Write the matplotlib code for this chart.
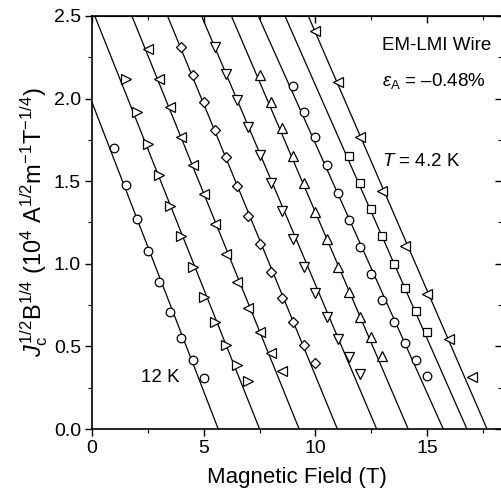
import matplotlib
matplotlib.use("Agg")
import matplotlib.pyplot as plt
import numpy as np

plt.rcParams['font.family'] = ['Liberation Sans', 'DejaVu Sans']
plt.rcParams['mathtext.fontset'] = 'custom'
plt.rcParams['mathtext.rm'] = 'Liberation Sans'
plt.rcParams['mathtext.it'] = 'Liberation Sans:italic'
plt.rcParams['mathtext.bf'] = 'Liberation Sans:bold'

# Kramer-plot data, J_c^{1/2} B^{1/4} vs field, one series per temperature (12 K ... 4.2 K)
b1 = [1.0, 1.5, 2.0, 2.5, 3.0, 3.5, 4.0, 4.5, 5.0]
j1 = [1.70, 1.48, 1.27, 1.08, 0.89, 0.71, 0.55, 0.42, 0.31]

b2 = [1.5, 2.0, 2.5, 3.0, 3.5, 4.0, 4.5, 5.0, 5.5, 6.0, 6.5, 7.0]
j2 = [2.12, 1.92, 1.725, 1.54, 1.35, 1.17, 0.98, 0.80, 0.65, 0.51, 0.39, 0.29]

b3 = [2.5, 3.0, 3.5, 4.0, 4.5, 5.0, 5.5, 6.0, 6.5, 7.0, 7.5, 8.0, 8.5]
j3 = [2.30, 2.12, 1.95, 1.77, 1.60, 1.42, 1.24, 1.06, 0.89, 0.73, 0.59, 0.46, 0.35]

b4 = [4.0, 4.5, 5.0, 5.5, 6.0, 6.5, 7.0, 7.5, 8.0, 8.5, 9.0, 9.5, 10.0]
j4 = [2.31, 2.14, 1.98, 1.81, 1.645, 1.47, 1.29, 1.12, 0.95, 0.795, 0.65, 0.51, 0.40]

b5 = [5.5, 6.0, 6.5, 7.0, 7.5, 8.0, 8.5, 9.0, 9.5, 10.0, 10.5, 11.0, 11.5, 12.0]
j5 = [2.31, 2.15, 1.99, 1.83, 1.66, 1.49, 1.32, 1.15, 0.98, 0.825, 0.676, 0.545, 0.434, 0.333]

b6 = [7.5, 8.0, 8.5, 9.0, 9.5, 10.0, 10.5, 11.0, 11.5, 12.0, 12.5, 13.0]
j6 = [2.14, 1.98, 1.82, 1.65, 1.49, 1.315, 1.15, 0.98, 0.83, 0.68, 0.555, 0.44]

b7 = [9.0, 9.5, 10.0, 10.5, 11.0, 11.5, 12.0, 12.5, 13.0, 13.5, 14.0, 14.5, 15.0]
j7 = [2.076, 1.92, 1.77, 1.60, 1.43, 1.265, 1.10, 0.936, 0.78, 0.65, 0.52, 0.42, 0.32]

b8 = [11.5, 12.0, 12.5, 13.0, 13.5, 14.0, 14.5, 15.0]
j8 = [1.65, 1.49, 1.33, 1.17, 1.00, 0.855, 0.714, 0.585]

b9 = [10.0, 11.0, 12.0, 13.0, 14.0, 15.0, 16.0, 17.0]
j9 = [2.41, 2.10, 1.77, 1.44, 1.11, 0.817, 0.545, 0.317]

series_b = [b1, b2, b3, b4, b5, b6, b7, b8, b9]
series_j = [j1, j2, j3, j4, j5, j6, j7, j8, j9]
markers = ['o', '>', '<', 'D', 'v', '^', 'o', 's', '<']

# Linear Kramer fits: field-axis intercept (T) and slope
fit_bk = [5.65, 7.50, 9.27, 10.98, 12.74, 14.15, 15.72, 16.78, 17.68]
fit_slope = [-0.350, -0.339, -0.334, -0.329, -0.319, -0.316, -0.302, -0.307, -0.3125]

x_ticks = [0, 5, 10, 15]
y_ticks = [0.0, 0.5, 1.0, 1.5, 2.0, 2.5]
x_minor = [2.5, 7.5, 12.5, 17.5]
y_minor = [0.25, 0.75, 1.25, 1.75, 2.25]

fig = plt.figure(figsize=(5.01, 5.04), dpi=100)
ax = fig.add_axes([92 / 501, (504 - 429) / 504, (502 - 92) / 501, (429 - 16) / 504])

for bk, m in zip(fit_bk, fit_slope):
    xs = np.array([0.0, bk])
    ax.plot(xs, m * (xs - bk), color='black', lw=0.9, zorder=2)

sizes = {'o': 6.2, '>': 6.8, '<': 6.8, 'D': 5.2, 'v': 6.8, '^': 6.8, 's': 5.4}
for bs, js, mk in zip(series_b, series_j, markers):
    ax.plot(bs, js, linestyle='none', marker=mk, markersize=sizes[mk],
            markerfacecolor='white', markeredgecolor='black', markeredgewidth=0.9,
            zorder=3)

ax.set_xlim(0, 18.35)
ax.set_ylim(0, 2.5)
ax.set_xticks(x_ticks)
ax.set_yticks(y_ticks)
ax.set_xticklabels([str(t) for t in x_ticks])
ax.set_yticklabels([f"{t:.1f}" for t in y_ticks])
ax.set_xticks(x_minor, minor=True)
ax.set_yticks(y_minor, minor=True)
ax.tick_params(which='major', direction='out', length=5, width=1.0, labelsize=14, pad=3)
ax.tick_params(which='minor', direction='out', length=3, width=0.8)

# Inward ticks on the top and right edges
top = ax.secondary_xaxis('top')
top.set_xticks(x_ticks)
top.set_xticks(x_minor, minor=True)
top.tick_params(which='major', direction='in', length=5, width=1.0, labeltop=False)
top.tick_params(which='minor', direction='in', length=3, width=0.8)
right = ax.secondary_yaxis('right')
right.set_yticks(y_ticks)
right.set_yticks(y_minor, minor=True)
right.tick_params(which='major', direction='in', length=5, width=1.0, labelright=False)
right.tick_params(which='minor', direction='in', length=3, width=0.8)

for sp in ax.spines.values():
    sp.set_linewidth(1.2)

ax.set_xlabel('Magnetic Field (T)', fontsize=16, labelpad=7)
ax.set_ylabel(r'$J_{\rm c}^{1/2}{\rm B}^{1/4}$ (10$^{4}$ A$^{1/2}$m$^{-1}$T$^{-1/4}$)',
              fontsize=17, labelpad=3)

ax.text(13.0, 2.32, 'EM-LMI Wire', fontsize=13.5, ha='left', va='center')
ax.text(13.0, 2.105, '$\\varepsilon_{\\rm A}$ = \u20130.48%', fontsize=13.5,
        ha='left', va='center')
ax.text(13.0, 1.62, '$T$ = 4.2 K', fontsize=13.5, ha='left', va='center')
ax.text(2.2, 0.31, '12 K', fontsize=13.5, ha='left', va='center')

fig.savefig('out.png', dpi=100)
